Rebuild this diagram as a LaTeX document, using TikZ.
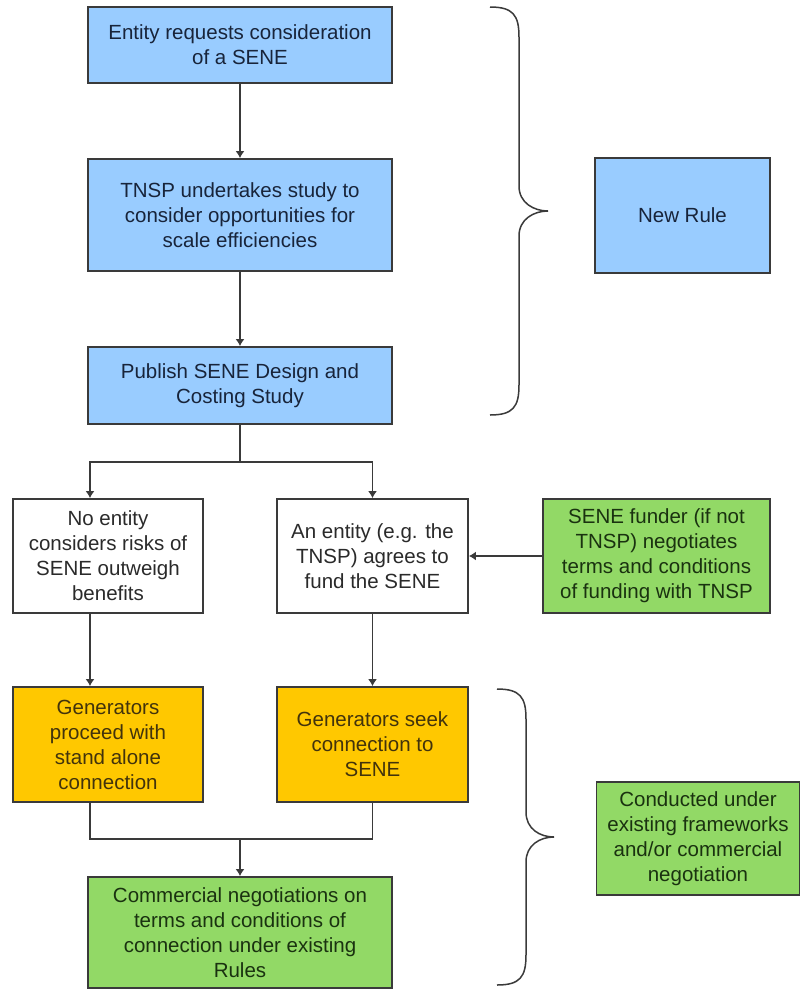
\documentclass[tikz,border=0pt]{standalone}
\usepackage{fontspec}
\setmainfont{Liberation Sans}
\usepackage{tikz}
\usetikzlibrary{arrows.meta}
\usetikzlibrary{positioning}

\definecolor{colorBlue}{HTML}{99CCFF}
\definecolor{colorGreen}{HTML}{92D966}
\definecolor{colorOrange}{HTML}{FFC800}
\definecolor{colorLine}{HTML}{3A3A3A}
\definecolor{colorTextBlue}{HTML}{18243A}
\definecolor{colorTextGreen}{HTML}{1A3210}
\definecolor{colorTextOrange}{HTML}{42330C}
\definecolor{colorTextGray}{HTML}{2A2A2A}
\def\colorLine{colorLine}

\tikzset{
    boxStyle/.style = {draw=\colorLine, line width=1.8pt, align=center, inner sep=0pt,
        font=\fontsize{20.5pt}{25pt}\selectfont},
    blueBox/.style = {boxStyle, fill=colorBlue, text=colorTextBlue},
    greenBox/.style = {boxStyle, fill=colorGreen, text=colorTextGreen},
    orangeBox/.style = {boxStyle, fill=colorOrange, text=colorTextOrange},
    whiteBox/.style = {boxStyle, fill=white, text=colorTextGray},
    arrowStyle/.style = {line width=1.8pt, color=\colorLine, -{Latex[length=7pt,width=9pt]}},
    lineStyle/.style = {line width=1.8pt, color=\colorLine},
    braceStyle/.style = {line width=1.5pt, color=\colorLine}
}

\newcommand{\drawbrace}[4]{
    % Parametres : #1=x des bouts, #2=x de la pointe, #3=y haut, #4=y bas
    \pgfmathsetmacro{\xv}{#1+29}
    \pgfmathsetmacro{\ym}{(#3+#4)/2}
    \draw[braceStyle] (#1,#3) .. controls (\xv-6,#3) and (\xv,#3+8) .. (\xv,#3+30)
        -- (\xv,\ym-25) .. controls (\xv,\ym-8) and (#2-14,\ym) .. (#2,\ym)
        .. controls (#2-14,\ym) and (\xv,\ym+8) .. (\xv,\ym+25)
        -- (\xv,#4-30) .. controls (\xv,#4-8) and (\xv-6,#4) .. (#1,#4);
}

\begin{document}
\begin{tikzpicture}[x=1pt, y=-1pt]

    \useasboundingbox (0,0) rectangle (800,989);

    % Partie haute : nouvelle regle
    \node[blueBox, minimum width=304, minimum height=76] (request) at (240,45)
        {Entity requests consideration\\of a SENE};
    \node[blueBox, minimum width=304, minimum height=112] (study) at (240,215)
        {TNSP undertakes study to\\consider opportunities for\\scale efficiencies};
    \node[blueBox, minimum width=304, minimum height=77] (publish) at (240,385.5)
        {Publish SENE Design and\\Costing Study};
    \node[blueBox, minimum width=175, minimum height=115] (newRule) at (682.5,215.5)
        {New Rule};

    % Les deux branches
    \node[whiteBox, minimum width=190, minimum height=114] (noEntity) at (108,556)
        {No entity\\considers risks of\\SENE outweigh\\benefits};
    \node[whiteBox, minimum width=191, minimum height=114] (anEntity) at (372.5,556)
        {An entity (e.g. the\\TNSP) agrees to\\fund the SENE};
    \node[greenBox, minimum width=227, minimum height=114] (funder) at (656.5,556)
        {SENE funder (if not\\TNSP) negotiates\\terms and conditions\\of funding with TNSP};

    \node[orangeBox, minimum width=190, minimum height=115] (standAlone) at (108,744.5)
        {Generators\\proceed with\\stand alone\\connection};
    \node[orangeBox, minimum width=191, minimum height=115] (seekSene) at (372.5,744.5)
        {Generators seek\\connection to\\SENE};

    \node[greenBox, minimum width=304, minimum height=111] (commercial) at (240,932.5)
        {Commercial negotiations on\\terms and conditions of\\connection under existing\\Rules};
    \node[greenBox, minimum width=203, minimum height=113] (conducted) at (698,838.5)
        {Conducted under\\existing frameworks\\and/or commercial\\negotiation};

    \coordinate (splitLeft) at (90,462);
    \coordinate (splitRight) at (anEntity.north |- splitLeft);
    \coordinate (mergeLeft) at (90,839);
    \coordinate (mergeRight) at (seekSene.south |- mergeLeft);

    % Fleches
    \draw[arrowStyle] (request) -- (study);
    \draw[arrowStyle] (study) -- (publish);
    \draw[arrowStyle] (publish.south) |- (splitLeft) -- (splitLeft |- noEntity.north);
    \draw[arrowStyle] (publish.south) |- (splitRight) -- (anEntity.north);
    \draw[arrowStyle] (funder.west) -- (anEntity.east);
    \draw[arrowStyle] (splitLeft |- noEntity.south) -- (splitLeft |- standAlone.north);
    \draw[arrowStyle] (anEntity.south) -- (seekSene.north);
    \draw[lineStyle] (mergeLeft |- standAlone.south) -- (mergeLeft) -- (mergeRight) -- (seekSene.south);
    \draw[arrowStyle] (commercial.north |- mergeLeft) -- (commercial.north);

    % Accolades
    \drawbrace{490}{548}{7}{415};
    \drawbrace{497}{554}{689}{985};

\end{tikzpicture}
\end{document}
